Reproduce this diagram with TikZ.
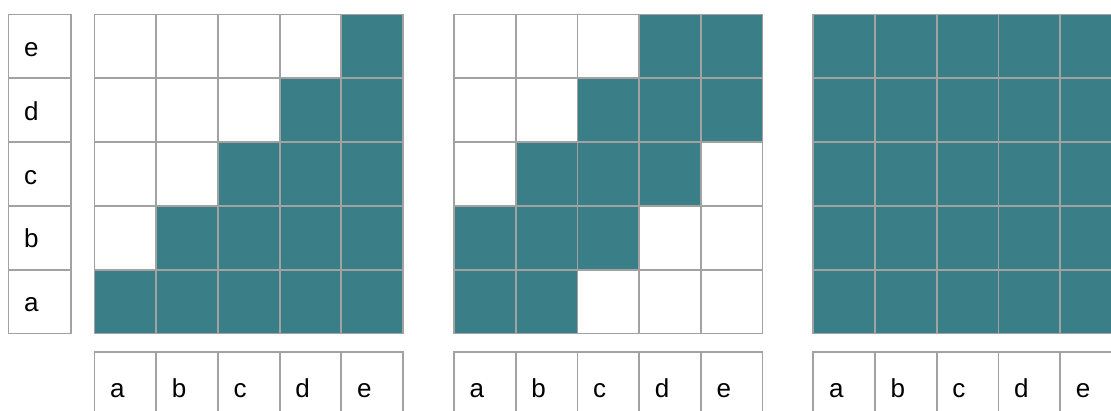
\documentclass[tikz,border=0pt]{standalone}
\usepackage{fontspec}
\setmainfont{Liberation Sans}
\definecolor{tealfill}{HTML}{3A7F88}
\definecolor{gridgray}{HTML}{A2A2A2}
\begin{document}
\begin{tikzpicture}[x=1pt,y=-1pt,
  cell/.style={minimum width=61.7pt, minimum height=63.8pt,
               inner sep=0pt, outer sep=0pt, anchor=north west},
  labcell/.style={cell, fill=white},
  border/.style={draw=gridgray, line width=1.8pt},
  lab/.style={anchor=base west, inner sep=0pt, font=\fontsize{26}{30}\selectfont}]
\useasboundingbox (0,0) rectangle (1111,410);
\clip (0,0) rectangle (1111,410);
% left row labels
\foreach \r/\l in {1/a,2/b,3/c,4/d,5/e}{
  \node[labcell, minimum width=62.5pt] (L\r) at (8.5,{14.5+(5-\r)*63.8}) {};
  \node[lab] (Lt\r) at ([shift={(15.5,42)}]L\r.north west) {\l};
}
% grids: fills
\foreach \g/\gx in {1/94.5,2/454,3/813.3}{
  \foreach \r in {1,...,5}{
    \foreach \c in {1,...,5}{
      \pgfmathtruncatemacro\f{(\g==3) || (\g==1 && \c>=\r) || (\g==2 && abs(\c-\r)<=1)}
      \ifnum\f=1 \def\fc{tealfill}\else\def\fc{white}\fi
      \node[cell, fill=\fc] (g\g-\c\r) at ({\gx+(\c-1)*61.7},{14.5+(5-\r)*63.8}) {};
    }
  }
  \foreach \c/\l in {1/a,2/b,3/c,4/d,5/e}{
    \node[labcell, minimum height=80pt] (B\g-\c) at ({\gx+(\c-1)*61.7},352) {};
    \node[lab] (Bt\g-\c) at ([shift={(15.5,45)}]B\g-\c.north west) {\l};
  }
}
% borders on top
\foreach \r in {1,...,5}{
  \draw[border] (L\r.north west) rectangle (L\r.south east);
}
\foreach \g in {1,2,3}{
  \foreach \c in {1,...,5}{
    \foreach \r in {1,...,5}{
      \draw[border] (g\g-\c\r.north west) rectangle (g\g-\c\r.south east);
    }
    \draw[border] (B\g-\c.north west) rectangle (B\g-\c.south east);
  }
}
\end{tikzpicture}
\end{document}
